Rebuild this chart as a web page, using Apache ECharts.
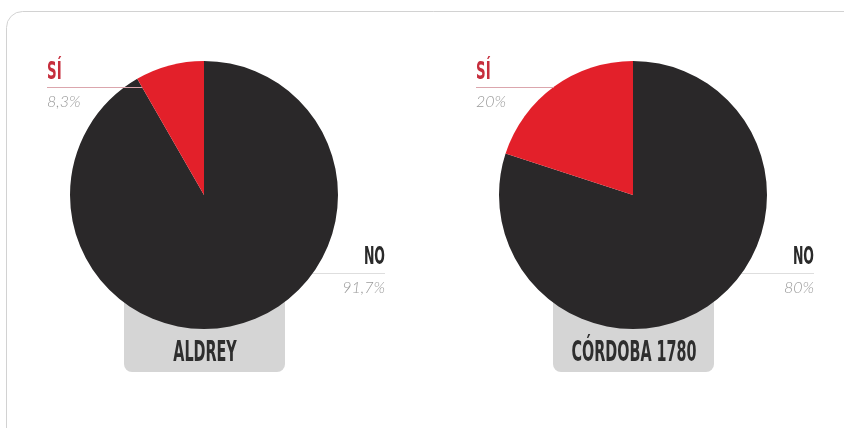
<!DOCTYPE html>
<html><head><meta charset="utf-8">
<script src="https://cdn.jsdelivr.net/npm/echarts@6/dist/echarts.min.js"></script>
<style>html,body{margin:0;padding:0;background:#fff}#c{width:844px;height:428px}</style>
</head><body><div id="c"></div>
<script>
const categories = ['NO', 'SÍ'];
const pieTitles = ['ALDREY', 'CÓRDOBA 1780'];
const aldreyValues = [91.7, 8.3];
const cordobaValues = [80, 20];
const colors = ['#2a2829', '#e3202a'];

const chart = echarts.init(document.getElementById('c'));
const fmt = v => String(v).replace('.', ',') + '%';
const centers = [[204, 195], [633, 195]];
const R = 134;
const seriesVals = [aldreyValues, cordobaValues];

const graphics = [
  { type: 'rect', shape: { x: 6.5, y: 11.5, width: 860, height: 440, r: 16 }, style: { fill: 'none', stroke: '#d2d2d2', lineWidth: 1 }, z: -20 }
];
const headFont = '"Liberation Sans Narrow", "DejaVu Sans Condensed", sans-serif';
const pctFont = 'italic 300 16px Lato, "Open Sans", sans-serif';
centers.forEach((c, i) => {
  const [cx, cy] = c;
  const vals = seriesVals[i];
  // grey name box
  graphics.push({ type: 'rect', shape: { x: cx - 80, y: 290, width: 161, height: 82, r: [0, 0, 8, 8] }, style: { fill: '#d5d5d5' }, z: -10 });
  graphics.push({ type: 'text', x: cx + 1, y: 354, scaleX: 0.57,
    style: { text: pieTitles[i], fill: '#2e2e2e', font: 'bold 28px ' + headFont, textAlign: 'center', textVerticalAlign: 'middle' }, z: 5 });
  // SÍ label (left)
  const lx = cx - 157;
  const dy = cy - 87;
  const edgeX = cx - Math.sqrt(R * R - dy * dy);
  const redX = cx - dy * Math.tan(vals[1] / 100 * 2 * Math.PI);
  const lineEnd = Math.max(edgeX, Math.min(redX, cx));
  graphics.push({ type: 'text', x: lx, y: 85, scaleX: 0.62,
    style: { text: categories[1], fill: '#c62e3d', font: 'bold 24px ' + headFont, textAlign: 'left', textVerticalAlign: 'bottom' }, z: 5 });
  graphics.push({ type: 'line', shape: { x1: lx, y1: 87.5, x2: lineEnd, y2: 87.5 }, style: { stroke: '#dba6ad', lineWidth: 1 }, z: 5 });
  graphics.push({ type: 'text', x: lx, y: 102, style: { text: fmt(vals[1]), fill: '#9a9a9a', font: pctFont, textAlign: 'left', textVerticalAlign: 'middle' }, z: 5 });
  // NO label (right)
  const rx = cx + 181;
  const dy2 = 273 - cy;
  const edge2 = cx + Math.sqrt(R * R - dy2 * dy2);
  graphics.push({ type: 'text', x: rx, y: 270, scaleX: 0.58,
    style: { text: categories[0], fill: '#2a2a2a', font: 'bold 24px ' + headFont, textAlign: 'right', textVerticalAlign: 'bottom' }, z: 5 });
  graphics.push({ type: 'line', shape: { x1: edge2 - 4, y1: 273.5, x2: rx, y2: 273.5 }, style: { stroke: '#dedede', lineWidth: 1 }, z: -1 });
  graphics.push({ type: 'text', x: rx, y: 288, style: { text: fmt(vals[0]), fill: '#9a9a9a', font: pctFont, textAlign: 'right', textVerticalAlign: 'middle' }, z: 5 });
});

chart.setOption({
  animation: false,
  color: colors,
  graphic: graphics,
  series: seriesVals.map((vals, i) => ({
    type: 'pie',
    center: centers[i],
    radius: R,
    startAngle: 90,
    clockwise: true,
    z: 2,
    label: { show: false },
    labelLine: { show: false },
    emphasis: { disabled: true },
    itemStyle: { borderWidth: 0 },
    data: categories.map((n, k) => ({ name: n, value: vals[k] }))
  }))
});
</script></body></html>
